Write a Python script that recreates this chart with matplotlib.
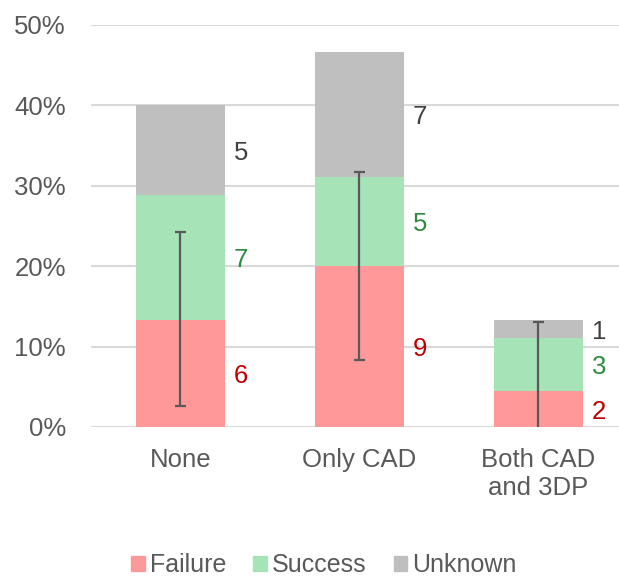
import numpy as np
import matplotlib.pyplot as plt
from matplotlib.patches import Patch

plt.rcParams['font.family'] = ['Liberation Sans', 'DejaVu Sans']

## data (counts out of 45 cases, shown as percentages)
categories = ['None', 'Only CAD', 'Both CAD\nand 3DP']
total_n = 45
failure = [6, 9, 2]
success = [7, 5, 3]
unknown = [5, 7, 1]
err_low = [2.6, 8.3, 0.0]
err_high = [24.2, 31.7, 13.0]

series_names = ['Failure', 'Success', 'Unknown']
bar_colors = ['#FF9999', '#A6E3B7', '#BFBFBF']
text_colors = ['#C00000', '#2E8B3E', '#404040']

fail_pct = np.array(failure) / total_n * 100
succ_pct = np.array(success) / total_n * 100
unk_pct = np.array(unknown) / total_n * 100

fig = plt.figure(figsize=(6.19, 5.76), dpi=100)
ax = fig.add_axes([91/619, 149/576, 528/619, 402/576])

x = np.arange(len(categories))
width = 0.5
ax.bar(x, fail_pct, width, color=bar_colors[0], zorder=2)
ax.bar(x, succ_pct, width, bottom=fail_pct, color=bar_colors[1], zorder=2)
ax.bar(x, unk_pct, width, bottom=fail_pct+succ_pct, color=bar_colors[2], zorder=2)

## count labels to the right of each segment
for i in range(len(categories)):
    bottoms = [0, fail_pct[i], fail_pct[i]+succ_pct[i]]
    heights = [fail_pct[i], succ_pct[i], unk_pct[i]]
    counts = [failure[i], success[i], unknown[i]]
    for b, h, c, col in zip(bottoms, heights, counts, text_colors):
        ax.annotate(str(c), (x[i] + width/2, b + h/2), xytext=(6, -2),
                    textcoords='offset points', ha='left', va='center',
                    fontsize=18.5, color=col)

## error bars (no cap where it hits zero)
ax.vlines(x, err_low, err_high, color='#595959', lw=1.6, zorder=3)
cap = 0.03
for i in range(len(categories)):
    ax.hlines(err_high[i], x[i]-cap, x[i]+cap, color='#595959', lw=1.6, zorder=3)
    if err_low[i] > 0:
        ax.hlines(err_low[i], x[i]-cap, x[i]+cap, color='#595959', lw=1.6, zorder=3)

ax.set_xlim(-0.5, 2.45)
ax.set_ylim(0, 50)
ax.set_yticks(np.arange(0, 51, 10))
ax.set_yticklabels(['%d%%' % v for v in range(0, 51, 10)])
ax.set_xticks(x)
ax.set_xticklabels(categories)
ax.yaxis.grid(True, color='#D9D9D9', lw=1.5, zorder=0)
ax.set_axisbelow(True)
for s in ax.spines.values():
    s.set_visible(False)
ax.tick_params(length=0, labelsize=18.5, colors='#595959')
ax.tick_params(axis='x', pad=15)
ax.tick_params(axis='y', pad=18)

handles = [Patch(color=c) for c in bar_colors]
fig.legend(handles, series_names, loc='center', bbox_to_anchor=(324/619, 11/576),
           ncol=3, frameon=False, fontsize=18, handlelength=0.55,
           handleheight=0.55, handletextpad=0.2, columnspacing=1.08,
           labelcolor='#595959')

fig.savefig('out.png', dpi=100)
